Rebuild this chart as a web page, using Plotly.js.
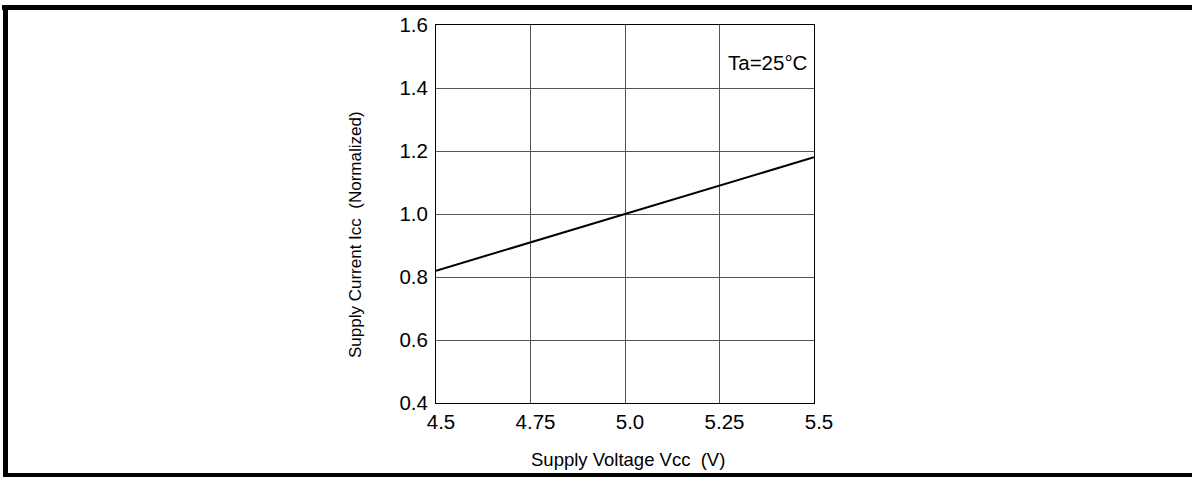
<!DOCTYPE html>
<html>
<head>
<meta charset="utf-8">
<script src="https://cdn.plot.ly/plotly-3.0.1.min.js"></script>
<style>
html,body{margin:0;padding:0;background:#fff;}
#chart{width:1192px;height:477px;}
</style>
</head>
<body>
<div id="chart"></div>
<script>
// Data
const voltage = [4.5, 4.75, 5.0, 5.25, 5.5];
const currentNorm = [0.82, 0.91, 1.0, 1.09, 1.18];
const xTickVals = [4.5, 4.75, 5.0, 5.25, 5.5];
const xTickText = ["4.5", "4.75", "5.0", "5.25", "5.5"];
const yTickVals = [0.4, 0.6, 0.8, 1.0, 1.2, 1.4, 1.6];
const yTickText = ["0.4", "0.6", "0.8", "1.0", "1.2", "1.4", "1.6"];
const xTitle = "Supply Voltage Vcc  (V)";
const yTitle = "Supply Current Icc  (Normalized)";
const condition = "Ta=25°C";

// pixel helpers for page-frame geometry
const L = 436, R = 814, T = 25, B = 403;
const W = R - L, H = B - T;
const px = x => (x - L) / W;
const py = y => (B - y) / H;

const font = "Liberation Sans, Arial, sans-serif";

const trace = {
  x: voltage, y: currentNorm, type: "scatter", mode: "lines",
  line: {color: "#000", width: 2}, hoverinfo: "none"
};

const frame = (x0, y0, x1, y1) => ({
  type: "rect", xref: "paper", yref: "paper",
  x0: px(x0), x1: px(x1), y0: py(y0), y1: py(y1),
  fillcolor: "#000", line: {width: 0}, layer: "above"
});

const layout = {
  width: 1192, height: 477,
  margin: {l: L, r: 1192 - R, t: T, b: 477 - B, pad: 0},
  paper_bgcolor: "#fff", plot_bgcolor: "#fff",
  showlegend: false,
  font: {family: font, color: "#000", size: 20},
  xaxis: {
    range: [4.5, 5.5], tickvals: xTickVals, ticktext: xTickText,
    showgrid: true, gridcolor: "#555", gridwidth: 1,
    showline: true, linecolor: "#000", linewidth: 1, mirror: true,
    ticks: "", zeroline: false, ticklabelshift: 5,
    tickfont: {size: 20.5, family: font, color: "#000"}
  },
  yaxis: {
    range: [0.4, 1.6], tickvals: yTickVals, ticktext: yTickText,
    showgrid: true, gridcolor: "#555", gridwidth: 1,
    showline: true, linecolor: "#000", linewidth: 1, mirror: true,
    ticks: "", zeroline: false, ticklabelstandoff: 3,
    tickfont: {size: 20.5, family: font, color: "#000"}
  },
  annotations: [
    {text: xTitle, xref: "paper", yref: "paper", x: px(627.5), y: py(459),
     xanchor: "center", yanchor: "middle", showarrow: false,
     font: {size: 18.5, family: font, color: "#000"}},
    {text: yTitle, xref: "paper", yref: "paper", x: px(355), y: py(235),
     xanchor: "center", yanchor: "middle", showarrow: false, textangle: -90,
     font: {size: 17, family: font, color: "#000"}},
    {text: condition, xref: "paper", yref: "paper", x: px(810), y: py(62),
     xanchor: "right", yanchor: "middle", showarrow: false,
     font: {size: 20.5, family: font, color: "#000"}}
  ],
  shapes: [
    frame(2, 5, 1192, 10),
    frame(3, 5, 8, 477),
    frame(3, 473, 1192, 477)
  ]
};

Plotly.newPlot("chart", [trace], layout, {staticPlot: true, displayModeBar: false});
</script>
</body>
</html>
